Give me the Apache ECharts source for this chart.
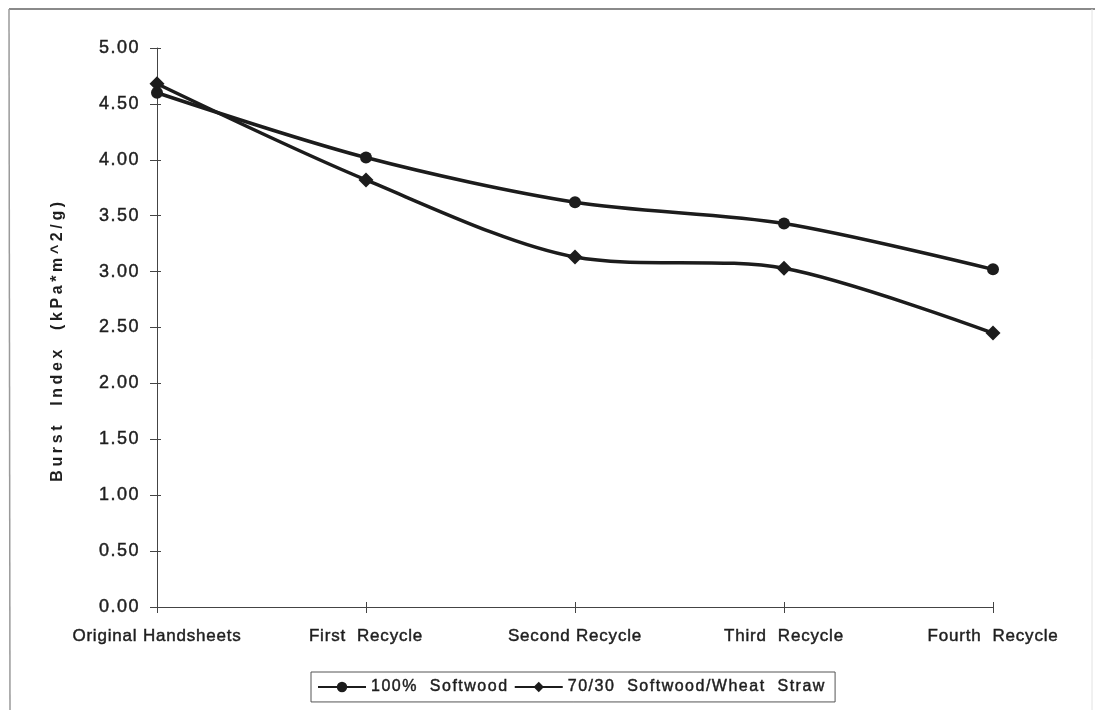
<!DOCTYPE html>
<html>
<head>
<meta charset="utf-8">
<title>Burst Index vs Recycling</title>
<script src="https://cdn.jsdelivr.net/npm/echarts@6/dist/echarts.min.js"></script>
<style>
  html, body { margin: 0; padding: 0; background: #fff; }
  #chart { width: 1095px; height: 710px; }
</style>
</head>
<body>
<div id="chart"></div>
<script>
// Recycling stages (x axis)
const stages = ['Original Handsheets', 'First  Recycle', 'Second Recycle', 'Third  Recycle', 'Fourth  Recycle'];

// Burst index, kPa*m^2/g
const softwood100 = [4.60, 4.02, 3.62, 3.43, 3.02];
const softwoodWheat = [4.68, 3.82, 3.13, 3.03, 2.45];

const seriesNames = ['100%  Softwood', '70/30  Softwood/Wheat  Straw'];
const yTitle = 'Burst  Index  (kPa*m^2/g)';

const INK = '#1c1c1c';
const TEXT = '#1e1e1e';
const FONT = '"Liberation Sans", Arial, Helvetica, sans-serif';

// Wide typewriter-like tracking for all chart text: the spacing is chosen
// from the font size, and applied both when measuring and when drawing.
(function () {
  const proto = CanvasRenderingContext2D.prototype;
  if (!('letterSpacing' in proto)) return;
  const spacingFor = font => {
    const m = /(\d+(?:\.\d+)?)px/.exec(font || '');
    const size = m ? parseFloat(m[1]) : 12;
    const bold = /bold|700/.test(font || '');
    if (bold) return '3.6px';
    if (size >= 18) return '1.5px';
    if (size >= 17) return '0.8px';
    if (size >= 16) return '1.5px';
    return '0px';
  };
  const wrap = name => {
    const orig = proto[name];
    proto[name] = function () {
      this.letterSpacing = spacingFor(this.font);
      return orig.apply(this, arguments);
    };
  };
  wrap('fillText');
  wrap('strokeText');
  wrap('measureText');
})();

// slightly heavier strokes on the text, like a dense print
const heavy = { textBorderColor: TEXT, textBorderWidth: 0.45 };

const chart = echarts.init(document.getElementById('chart'), null, { renderer: 'canvas' });

const baseY = { type: 'value', min: 0, max: 5, interval: 0.5 };

chart.setOption({
  backgroundColor: '#ffffff',
  animation: false,
  graphic: [
    // page frame
    { type: 'line', shape: { x1: 9, y1: 9, x2: 1095, y2: 9 }, style: { stroke: '#8a8a8a', lineWidth: 2 }, silent: true },
    { type: 'line', shape: { x1: 9, y1: 9, x2: 10, y2: 710 }, style: { stroke: '#9a9a9a', lineWidth: 1.5 }, silent: true },
    { type: 'line', shape: { x1: 1092, y1: 9, x2: 1092, y2: 710 }, style: { stroke: '#e2e2e2', lineWidth: 1 }, silent: true },
    // y axis title
    {
      type: 'text',
      x: 58, y: 340,
      rotation: Math.PI / 2,
      style: {
        text: yTitle,
        fill: TEXT,
        font: 'bold 16px ' + FONT,
        align: 'center',
        verticalAlign: 'middle'
      },
      silent: true
    }
  ],
  grid: { left: 157, right: 102, top: 48, bottom: 103 },
  xAxis: [{
    type: 'category',
    data: stages,
    boundaryGap: false,
    axisLine: { lineStyle: { color: '#444', width: 1 } },
    axisTick: { show: true, length: 6, lineStyle: { color: '#444' } },
    axisLabel: Object.assign({ color: TEXT, fontFamily: FONT, fontSize: 17, margin: 20, interval: 0 }, heavy),
    splitLine: { show: false }
  }, {
    // inner half of the crossing tick marks
    type: 'category',
    data: stages,
    boundaryGap: false,
    position: 'bottom',
    axisLine: { show: false },
    axisTick: { show: true, inside: true, length: 5, lineStyle: { color: '#444' } },
    axisLabel: { show: false },
    splitLine: { show: false }
  }],
  yAxis: [Object.assign({}, baseY, {
    axisLine: { show: true, lineStyle: { color: '#444', width: 1 } },
    axisTick: { show: true, length: 7, lineStyle: { color: '#444' } },
    axisLabel: Object.assign({
      color: TEXT, fontFamily: FONT, fontSize: 18, margin: 17,
      formatter: v => v.toFixed(2)
    }, heavy),
    splitLine: { show: false }
  }), Object.assign({}, baseY, {
    position: 'left',
    axisLine: { show: false },
    axisTick: { show: true, inside: true, length: 4, lineStyle: { color: '#444' } },
    axisLabel: { show: false },
    splitLine: { show: false }
  })],
  legend: {
    data: seriesNames,
    left: 311,
    top: 672,
    orient: 'horizontal',
    padding: [6, 9, 6, 6],
    itemGap: 5,
    itemWidth: 48,
    itemHeight: 13,
    borderColor: '#555',
    borderWidth: 1,
    textStyle: Object.assign({ color: TEXT, fontFamily: FONT, fontSize: 16 }, heavy)
  },
  series: [{
    name: seriesNames[0],
    type: 'line',
    data: softwood100,
    smooth: 0.3,
    symbol: 'circle',
    symbolSize: 12,
    lineStyle: { color: INK, width: 3.5 },
    itemStyle: { color: INK }
  }, {
    name: seriesNames[1],
    type: 'line',
    data: softwoodWheat,
    smooth: 0.3,
    symbol: 'diamond',
    symbolSize: 15,
    lineStyle: { color: INK, width: 3.5 },
    itemStyle: { color: INK }
  }]
});
</script>
</body>
</html>
